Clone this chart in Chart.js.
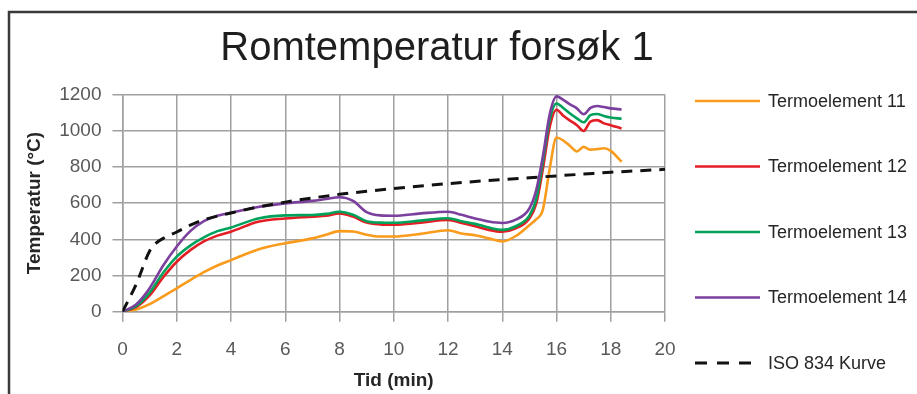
<!DOCTYPE html>
<html>
<head>
<meta charset="utf-8">
<script src="https://cdn.jsdelivr.net/npm/chart.js@4/dist/chart.umd.min.js"></script>
<style>
  html, body { margin: 0; padding: 0; background: #fff; }
  #wrap { width: 917px; height: 394px; position: relative; }
</style>
</head>
<body>
<div id="wrap"><canvas id="c" width="917" height="394"></canvas></div>
<script>
// ---- Data ----
const chartTitle = "Romtemperatur forsøk 1";
const xTitle = "Tid (min)";
const yTitle = "Temperatur (°C)";

const timeMin = [0, 0.5, 1, 1.5, 2, 2.5, 3, 3.5, 4, 5, 6, 7, 7.5, 8, 8.5, 9, 9.5, 10, 11, 12, 12.5, 13, 13.5, 14, 14.5, 15, 15.25, 15.5, 15.75, 16, 16.25, 16.5, 16.75, 17, 17.25, 17.5, 17.75, 18, 18.4];

const te11 = [0, 12, 42, 85, 129, 175, 218, 255, 285, 344, 378, 405, 425, 445, 443, 425, 415, 415, 430, 450, 432, 422, 405, 388, 418, 478, 510, 565, 790, 962, 945, 915, 885, 910, 895, 898, 903, 888, 828];
const te12 = [0, 25, 90, 190, 276, 340, 388, 420, 442, 497, 515, 525, 530, 543, 525, 492, 482, 480, 492, 506, 490, 472, 452, 442, 460, 515, 595, 790, 1020, 1115, 1082, 1055, 1030, 998, 1050, 1058, 1040, 1030, 1012];
const te13 = [0, 30, 105, 215, 304, 365, 410, 445, 465, 515, 532, 534, 540, 552, 535, 500, 492, 491, 503, 516, 500, 485, 465, 452, 472, 530, 620, 830, 1060, 1150, 1125, 1095, 1068, 1046, 1085, 1092, 1081, 1072, 1066];
const te14 = [0, 40, 130, 255, 360, 445, 500, 530, 547, 578, 598, 612, 622, 632, 612, 550, 532, 530, 543, 552, 535, 515, 498, 490, 508, 570, 670, 860, 1090, 1189, 1170, 1145, 1123, 1090, 1125, 1136, 1130, 1123, 1117];

const isoTime = [0, 0.5, 1, 1.25, 1.5, 2, 2.5, 3, 4, 5, 6, 7, 8, 9, 10, 11, 12, 13, 14, 15, 16, 17, 18, 19, 20];
const isoTemp = [0, 150, 335, 380, 405, 440, 478, 508, 545, 578, 605, 628, 648, 665, 680, 694, 707, 719, 730, 740, 750, 760, 770, 778, 786];

const seriesNames = ["Termoelement 11", "Termoelement 12", "Termoelement 13", "Termoelement 14", "ISO 834 Kurve"];
const xTicks = [0, 2, 4, 6, 8, 10, 12, 14, 16, 18, 20];
const yTicks = [0, 200, 400, 600, 800, 1000, 1200];

// ---- Build ----
const FONT = '"Liberation Sans", Arial, sans-serif';
const pts = (xs, ys) => xs.map((x, i) => ({ x: x, y: ys[i] }));
const colors = ["#F99B1C", "#E31E24", "#00A15A", "#7B3F9E", "#111111"];
const seriesVals = [te11, te12, te13, te14];

const datasets = seriesVals.map((v, i) => ({
  label: seriesNames[i],
  data: pts(timeMin, v),
  borderColor: colors[i],
  backgroundColor: colors[i],
  borderWidth: 2.6,
  pointRadius: 0,
  tension: 0.3,
  cubicInterpolationMode: 'monotone',
  order: 4 - i
}));
datasets.push({
  label: seriesNames[4],
  data: pts(isoTime, isoTemp),
  borderColor: colors[4],
  backgroundColor: colors[4],
  borderWidth: 3,
  borderDash: [11, 8],
  pointRadius: 0,
  tension: 0.3,
  cubicInterpolationMode: 'monotone',
  order: 0
});

const decor = {
  id: 'decor',
  afterDraw(chart) {
    const ctx = chart.ctx;
    ctx.save();
    // frame (top and left lines)
    ctx.strokeStyle = '#3a3a3a';
    ctx.lineWidth = 2.5;
    ctx.beginPath();
    ctx.moveTo(9, 394);
    ctx.lineTo(9, 12);
    ctx.lineTo(917, 12);
    ctx.stroke();
    // title
    ctx.fillStyle = '#1e1e1e';
    ctx.font = '40px ' + FONT;
    ctx.textAlign = 'center';
    ctx.textBaseline = 'alphabetic';
    ctx.fillText(chartTitle, 437, 60);
    // legend
    ctx.font = '18px ' + FONT;
    ctx.textAlign = 'left';
    ctx.textBaseline = 'middle';
    chart.data.datasets.forEach((ds, i) => {
      const y = 101 + i * 65.5;
      ctx.strokeStyle = ds.borderColor;
      ctx.lineWidth = ds.borderWidth;
      ctx.setLineDash(ds.borderDash ? [12, 10] : []);
      ctx.beginPath();
      ctx.moveTo(695, y);
      ctx.lineTo(760, y);
      ctx.stroke();
      ctx.setLineDash([]);
      ctx.fillStyle = '#262626';
      ctx.fillText(ds.label, 768, y + 1);
    });
    ctx.restore();
  }
};

new Chart(document.getElementById('c'), {
  type: 'line',
  data: { datasets: datasets },
  options: {
    responsive: false,
    animation: false,
    layout: { padding: { left: 10, right: 252, top: 94.4, bottom: 0 } },
    plugins: {
      legend: { display: false },
      title: { display: false },
      tooltip: { enabled: false }
    },
    scales: {
      x: {
        type: 'linear',
        min: 0, max: 20,
        afterBuildTicks: (s) => { s.ticks = xTicks.map(v => ({ value: v })); },
        afterFit: (s) => { s.height = 82.3; },
        grid: { color: '#a0a0a0', lineWidth: 1.5, tickLength: 10, drawTicks: true },
        border: { color: '#a0a0a0', width: 1.5 },
        ticks: { color: '#595959', font: { family: FONT, size: 19 }, padding: 17, maxRotation: 0, callback: (v) => String(v) },
        title: { display: true, text: xTitle, color: '#262626', font: { family: FONT, size: 19, weight: 'bold' }, padding: { top: 0, bottom: 2 } }
      },
      y: {
        min: 0, max: 1200,
        afterBuildTicks: (s) => { s.ticks = yTicks.map(v => ({ value: v })); },
        afterFit: (s) => { s.width = 112.5; },
        grid: { color: '#a0a0a0', lineWidth: 1.5, tickLength: 10 },
        border: { color: '#a0a0a0', width: 1.5 },
        ticks: { color: '#595959', font: { family: FONT, size: 19 }, padding: 11, callback: (v) => String(v) },
        title: { display: true, text: yTitle, color: '#262626', font: { family: FONT, size: 19, weight: 'bold' }, padding: { top: 13, bottom: 0 } }
      }
    }
  },
  plugins: [decor]
});
</script>
</body>
</html>
